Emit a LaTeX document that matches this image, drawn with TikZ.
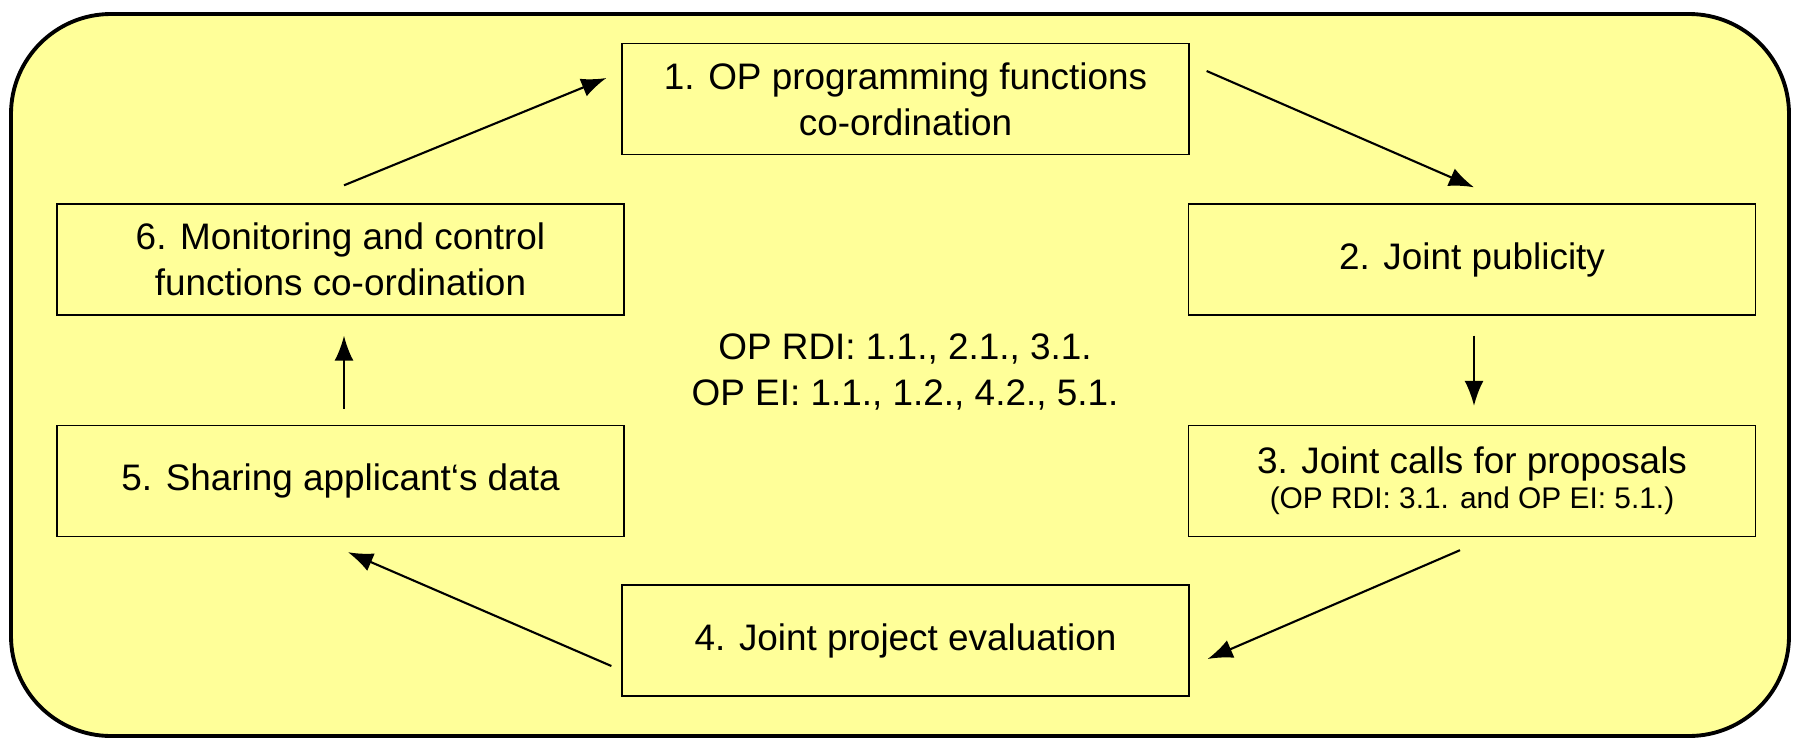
\documentclass[tikz,border=0pt]{standalone}
\usepackage{fontspec}
\setmainfont{Liberation Sans}
\usepackage{tikz}
\usetikzlibrary{arrows.meta}
\definecolor{paleyellow}{HTML}{FFFF99}

\begin{document}
\begin{tikzpicture}[x=0.02cm, y=-0.02cm, every node/.style={draw, fill=paleyellow, align=center, minimum width=11.34cm, minimum height=2.22cm, line width=0.8pt, font=\fontsize{21}{26}\selectfont}]
	\tikzset{flow/.style={-{Latex[length=0.5cm,width=0.38cm]}, line width=1.2pt}}
	\useasboundingbox (0,0) rectangle (1796,741);
	\draw[line width=2.2pt, fill=paleyellow, rounded corners=2cm] (11,14) rectangle (1789,736);
	\node (n1) at (905.5,99)  {1. OP programming functions\\co-ordination};
	\node (n2) at (1472,259.5) {2. Joint publicity};
	\node (n3) at (1472,481)  {3. Joint calls for proposals\\[-6pt]{\fontsize{17}{21}\selectfont (OP RDI: 3.1. and OP EI: 5.1.)}};
	\node (n4) at (905.5,640.5) {4. Joint project evaluation};
	\node (n5) at (340.5,481)  {5. Sharing applicant‘s data};
	\node (n6) at (340.5,259.5) {6. Monitoring and control\\functions co-ordination};
	\node[draw=none, fill=none] (codes) at (905,372) {OP RDI: 1.1., 2.1., 3.1.\\OP EI: 1.1., 1.2., 4.2., 5.1.};
	\draw[flow] ([shift={(3.5,-18)}]n6.north) -- ([shift={(-15,-21)}]n1.west);
	\draw[flow] ([shift={(17,-28)}]n1.east) -- ([shift={(2,-16)}]n2.north);
	\draw[flow] ([shift={(2,20)}]n2.south) -- ([shift={(2,-19)}]n3.north);
	\draw[flow] ([shift={(-12,13)}]n3.south) -- ([shift={(18,18.5)}]n4.east);
	\draw[flow] ([shift={(-10,25.5)}]n4.west) -- ([shift={(7.5,15)}]n5.south);
	\draw[flow] ([shift={(3.5,-16)}]n5.north) -- ([shift={(3.5,20)}]n6.south);
	\end{tikzpicture}
\end{document}
